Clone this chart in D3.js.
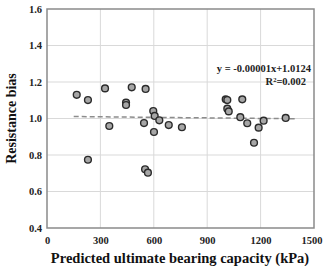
<!DOCTYPE html>
<html><head><meta charset="utf-8">
<script src="https://cdn.jsdelivr.net/npm/d3@7"></script>
<style>body{margin:0;background:#fff}svg{display:block}</style>
</head><body>
<script>
const capacity = [167,230,326,476,554,444,444,597,605,631,684,545,350,601,230,551,567,758,1004,1013,1013,1021,1097,1086,1125,1217,1189,1163,1341];
const bias = [1.130,1.101,1.165,1.171,1.162,1.087,1.074,1.041,1.014,0.990,0.964,0.975,0.959,0.926,0.774,0.722,0.703,0.952,1.105,1.101,1.054,1.039,1.105,1.007,0.974,0.988,0.950,0.867,1.003];
const xTicks = [0,300,600,900,1200,1500];
const yTicks = [0.4,0.6,0.8,1.0,1.2,1.4,1.6];
const slope = -0.00001, intercept = 1.0124;
const fitRange = [150,1400];

const W=323,H=266, m={l:47,r:9,t:9,b:38};
const svg=d3.select("body").append("svg").attr("width",W).attr("height",H);
const x=d3.scaleLinear().domain([0,1500]).range([m.l,W-m.r]);
const y=d3.scaleLinear().domain([0.4,1.6]).range([H-m.b,m.t]);
const font="'Liberation Serif','Times New Roman',serif";

// grid
svg.append("g").selectAll("line").data(xTicks.slice(1,-1)).join("line")
 .attr("x1",d=>x(d)).attr("x2",d=>x(d)).attr("y1",y(1.6)).attr("y2",y(0.4))
 .attr("stroke","#d9d9d9").attr("stroke-width",1);
svg.append("g").selectAll("line").data(yTicks.slice(1,-1)).join("line")
 .attr("y1",d=>y(d)).attr("y2",d=>y(d)).attr("x1",x(0)).attr("x2",x(1500))
 .attr("stroke","#d9d9d9").attr("stroke-width",1);

// axes
const xa=svg.append("g").attr("transform",`translate(0,${y(0.4)})`)
 .call(d3.axisBottom(x).tickValues(xTicks).tickSize(0).tickPadding(9).tickFormat(d3.format("d")));
const ya=svg.append("g").attr("transform",`translate(${x(0)},0)`)
 .call(d3.axisLeft(y).tickValues(yTicks).tickSize(0).tickPadding(5).tickFormat(d3.format(".1f")));
[xa,ya].forEach(a=>{a.select(".domain").remove();
 a.selectAll("text").attr("font-family",font).attr("font-weight","bold").attr("font-size",10.5).attr("fill","#222");});
xa.selectAll("text").filter(d=>d===1500).attr("dx",-2.5);

// frame
svg.append("rect").attr("x",x(0)).attr("y",y(1.6)).attr("width",x(1500)-x(0)).attr("height",y(0.4)-y(1.6))
 .attr("fill","none").attr("stroke","#8a8a8a").attr("stroke-width",1.5);

// fit line
svg.append("line").attr("x1",x(fitRange[0])).attr("x2",x(fitRange[1]))
 .attr("y1",y(slope*fitRange[0]+intercept)).attr("y2",y(slope*fitRange[1]+intercept))
 .attr("stroke","#8c8c8c").attr("stroke-width",1.5).attr("stroke-dasharray","5,3");

// points
svg.append("g").selectAll("circle").data(capacity.map((c,i)=>[c,bias[i]])).join("circle")
 .attr("cx",d=>x(d[0])).attr("cy",d=>y(d[1])).attr("r",3.4)
 .attr("fill","#a6a6a6").attr("stroke","#2b2b2b").attr("stroke-width",1.4);

// equation
svg.append("text").attr("x",311).attr("y",72).attr("text-anchor","end")
 .attr("font-family",font).attr("font-weight","bold").attr("font-size",10.5).attr("fill","#222")
 .text("y = -0.00001x+1.0124");
const r2=svg.append("text").attr("x",306).attr("y",85).attr("text-anchor","end")
 .attr("font-family",font).attr("font-weight","bold").attr("font-size",10.5).attr("fill","#222");
r2.append("tspan").text("R");
r2.append("tspan").attr("baseline-shift","super").attr("font-size",6.5).text("2");
r2.append("tspan").text("=0.002");

// titles
svg.append("text").attr("x",180).attr("y",263).attr("text-anchor","middle")
 .attr("font-family",font).attr("font-weight","bold").attr("font-size",14.5).attr("fill","#111")
 .text("Predicted ultimate bearing capacity (kPa)");
svg.append("text").attr("transform",`translate(16,${y(1.0)}) rotate(-90)`).attr("text-anchor","middle")
 .attr("font-family",font).attr("font-weight","bold").attr("font-size",14).attr("fill","#111")
 .text("Resistance bias");
</script>
</body></html>
